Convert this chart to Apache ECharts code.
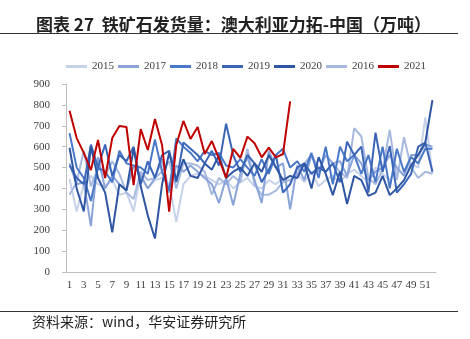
<!DOCTYPE html>
<html><head><meta charset="utf-8">
<script src="https://cdn.jsdelivr.net/npm/echarts@6/dist/echarts.min.js"></script>
<style>html,body{margin:0;padding:0;background:#fff}#c{width:470px;height:339px}</style>
</head><body><div id="c"></div>
<script>
var weeks = [];
for (var i = 1; i <= 52; i++) weeks.push(String(i));
var yTicks = [0,100,200,300,400,500,600,700,800,900];
var s2015 = [445,290,420,460,420,410,440,370,380,290,470,400,440,450,420,240,420,460,470,460,440,420,440,400,430,450,410,400,440,420,450,440,470,430,480,410,440,460,430,470,490,460,430,500,470,440,490,470,520,500,740,470];
var s2016 = [370,430,580,410,500,460,530,470,380,350,480,440,450,480,530,400,520,520,510,480,370,450,420,460,430,590,420,370,370,390,430,440,470,520,560,500,480,520,480,450,688,650,450,420,490,680,440,645,500,450,480,470];
var s2017 = [520,420,430,220,550,400,460,420,390,510,460,400,450,540,380,510,480,510,480,450,420,330,450,320,470,550,440,330,580,500,520,300,510,440,560,480,560,520,530,460,560,520,440,480,500,560,500,460,560,560,610,600];
var s2018 = [665,500,450,340,500,480,430,580,520,510,500,470,635,480,390,640,600,570,530,580,560,570,510,500,540,500,460,540,470,560,590,500,530,480,570,450,600,420,600,530,560,470,560,430,600,400,590,480,550,520,590,590];
var s2019 = [510,450,420,610,500,610,460,560,530,600,420,530,450,560,580,430,620,590,560,520,580,510,710,560,480,560,520,430,490,560,380,420,500,520,470,500,480,520,430,624,560,600,380,667,480,603,380,420,470,600,620,480];
var s2020 = [595,400,290,600,450,380,190,420,390,590,410,270,160,420,570,440,540,460,450,520,490,560,450,480,500,460,520,480,560,500,440,460,450,520,400,550,470,368,480,325,460,440,364,380,460,368,400,440,510,560,620,823];
var s2021 = [772,641,570,488,632,450,641,699,694,416,684,584,732,608,289,608,723,637,694,565,627,541,450,589,546,648,616,549,595,549,565,817];

var names = ['2015','2017','2018','2019','2020','2016','2021'];
var colors = {'2015':'#c6d1ea','2016':'#a7b9df','2017':'#8aa4d9','2018':'#4a78c8','2019':'#3b66b8','2020':'#2f56a2','2021':'#c00000'};
var dataMap = {'2015':s2015,'2016':s2016,'2017':s2017,'2018':s2018,'2019':s2019,'2020':s2020,'2021':s2021};
var order = ['2015','2016','2017','2018','2019','2020','2021'];

var series = order.map(function(n){
  return {name:n,type:'line',data:dataMap[n],symbol:'none',smooth:false,
    lineStyle:{width:2,color:colors[n]},itemStyle:{color:colors[n]},z: n==='2021'?10:2};
});

var chart = echarts.init(document.getElementById('c'),null,{renderer:'canvas'});
chart.setOption({
  animation:false,
  backgroundColor:'#fff',
  title:{text:'图表 27  铁矿石发货量：澳大利亚力拓-中国（万吨）',left:31,top:11,
    textStyle:{fontFamily:'Noto Sans CJK SC',fontSize:17,fontWeight:'bold',color:'#222'}},
  legend:{data:names,left:61,top:56,itemWidth:21,itemHeight:3,itemGap:4,icon:'rect',
    textStyle:{fontFamily:'Liberation Serif',fontSize:11,color:'#404040'}},
  grid:{left:66,right:34,top:84,bottom:67,containLabel:false},
  xAxis:{type:'category',data:weeks,boundaryGap:true,
    axisLine:{lineStyle:{color:'#bfbfbf',width:1}},axisTick:{show:false},
    axisLabel:{interval:1,margin:8,fontFamily:'Liberation Serif',fontSize:11,color:'#404040'},
    splitLine:{show:false}},
  yAxis:{type:'value',min:yTicks[0],max:yTicks[yTicks.length-1],interval:100,
    axisLine:{show:true,lineStyle:{color:'#bfbfbf',width:1}},
    axisTick:{show:true,length:4,lineStyle:{color:'#bfbfbf'}},
    axisLabel:{margin:16,fontFamily:'Liberation Serif',fontSize:11,color:'#404040'},
    splitLine:{show:false}},
  graphic:[
    {type:'line',shape:{x1:0,y1:33.5,x2:458,y2:33.5},style:{stroke:'#333',lineWidth:1}},
    {type:'line',shape:{x1:0,y1:311.5,x2:458,y2:311.5},style:{stroke:'#333',lineWidth:1}},
    {type:'text',left:32,top:315,style:{text:'资料来源：wind，华安证券研究所',font:'14px "Noto Sans CJK SC"',fill:'#222'}}
  ],
  series:series
});
</script></body></html>
